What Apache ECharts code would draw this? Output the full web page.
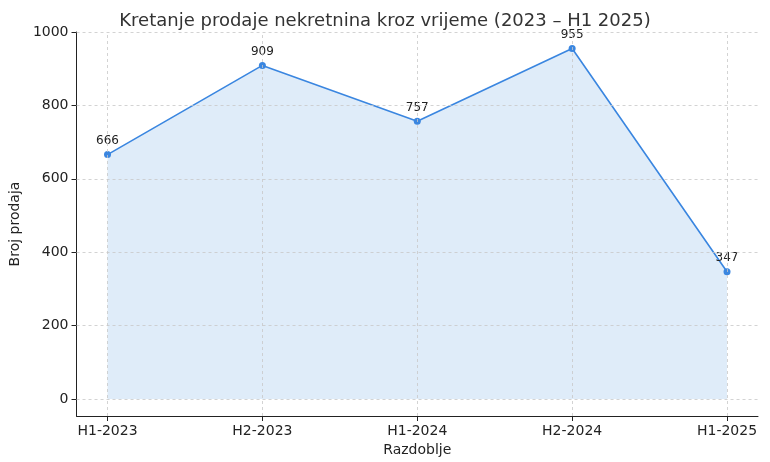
<!DOCTYPE html>
<html><head><meta charset="utf-8">
<script src="https://cdn.jsdelivr.net/npm/echarts@6/dist/echarts.min.js"></script>
<style>html,body{margin:0;padding:0;background:#fff}#c{width:770px;height:462px}</style>
</head><body><div id="c"></div>
<script>
const categories = ['H1-2023','H2-2023','H1-2024','H2-2024','H1-2025'];
const sales = [666, 909, 757, 955, 347];
const yTicks = [0, 200, 400, 600, 800, 1000];

const chart = echarts.init(document.getElementById('c'));
const data = sales.map((v,i)=>[i,v]);
const gridStyle = {color:'#c8c8c8', type:[3,3], width:0.8};
chart.setOption({
  animation:false,
  title:{text:'Kretanje prodaje nekretnina kroz vrijeme (2023 – H1 2025)', left:'center', top:7,
    textStyle:{fontFamily:'DejaVu Sans', fontSize:18, fontWeight:'normal', color:'#333'}},
  grid:{left:66, right:12, top:32, bottom:46},
  xAxis:{type:'value', min:-0.2, max:4.2, name:'Razdoblje', nameLocation:'middle', nameGap:27,
    nameTextStyle:{fontFamily:'DejaVu Sans', fontSize:14, color:'#222'},
    axisLine:{onZero:false, lineStyle:{color:'#222'}},
    axisTick:{customValues:[0,1,2,3,4], lineStyle:{color:'#222'}},
    axisLabel:{customValues:[0,1,2,3,4], formatter:v=>categories[Math.round(v)], fontFamily:'DejaVu Sans', fontSize:14, color:'#222'},
    splitLine:{show:false}},
  yAxis:{type:'value', min:-46, max:1000, name:'Broj prodaja', nameLocation:'middle', nameGap:42,
    nameTextStyle:{fontFamily:'DejaVu Sans', fontSize:14, color:'#222'},
    axisLine:{show:true, onZero:false, lineStyle:{color:'#222'}},
    axisTick:{show:true, customValues:yTicks, lineStyle:{color:'#222'}},
    axisLabel:{customValues:yTicks, formatter:v=>String(v), fontFamily:'DejaVu Sans', fontSize:14, color:'#222'},
    splitLine:{show:false}},
  series:[{type:'line', data:data, symbol:'circle', symbolSize:7,
    itemStyle:{color:'#3a86e0'}, lineStyle:{color:'#3a86e0', width:1.6},
    areaStyle:{color:'#dfecf9', opacity:1, origin:0},
    label:{show:true, position:'top', distance:4, fontFamily:'DejaVu Sans', fontSize:12, color:'#222'},
    markLine:{silent:true, symbol:'none', label:{show:false}, lineStyle:gridStyle,
      data:[...yTicks.map(v=>({yAxis:v})), ...[0,1,2,3,4].map(v=>({xAxis:v}))]},
    z:3}]
});
</script></body></html>
